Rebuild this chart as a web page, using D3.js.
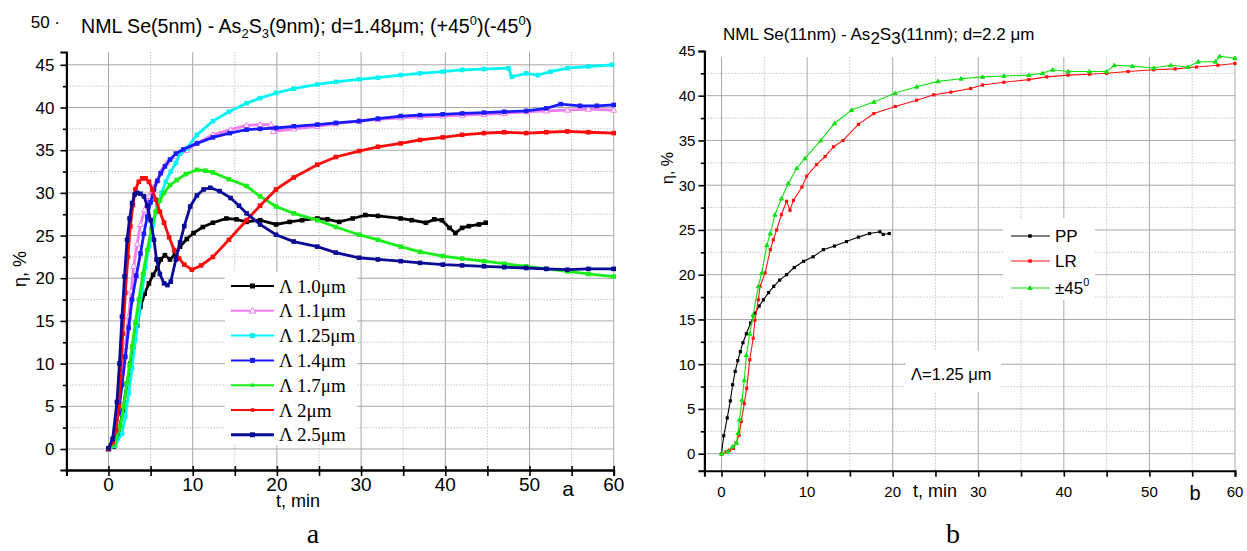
<!DOCTYPE html>
<html>
<head>
<meta charset="utf-8">
<script src="https://cdn.jsdelivr.net/npm/d3@7"></script>
<style>
  body { margin: 0; background: #fff; }
  svg { display: block; }
  text { font-family: "Liberation Sans", Arial, sans-serif; fill: #000; }
  .narrow { font-family: "Liberation Sans Narrow", "Liberation Sans", Arial, sans-serif; }
  .serif { font-family: "Liberation Serif", "Times New Roman", serif; }
</style>
</head>
<body>
<div id="chart"></div>
<script>
// ---- panel a : Se(5nm)-As2S3(9nm) ----
const aNames = ["\u039b 1.0\u03bcm", "\u039b 1.1\u03bcm", "\u039b 1.25\u03bcm", "\u039b 1.4\u03bcm", "\u039b 1.7\u03bcm", "\u039b 2\u03bcm", "\u039b 2.5\u03bcm"]
const aColors = ["#000000", "#f07cf0", "#00f4f4", "#1a1aff", "#18ee18", "#ff0a0a", "#0a0a96"]

const a10 = [[0,0],[0.6,0.3],[1.2,1.8],[1.7,4.5],[2.2,7.7],[2.6,10],[3.0,12],[3.4,14.5],[3.8,16.7],[4.3,18.2],[4.8,19.4],[5.3,20.4],[5.8,21.2],[6.2,22.2],[6.7,22.7],[7.3,22.2],[7.9,22.8],[8.5,23.7],[9.3,24.6],[10.1,25.3],[11.2,26],[12.4,26.5],[14,27],[15.2,26.9],[16.4,26.6],[18,26.8],[19.9,26.3],[21.5,26.6],[23,26.8],[24.8,27],[26,26.9],[27.4,26.6],[29,27],[30.5,27.4],[32,27.3],[34.7,27],[36,26.8],[37.7,26.5],[38.7,26.9],[39.6,26.8],[40.5,25.9],[41.2,25.3],[42,25.9],[42.8,26.1],[44,26.3],[44.8,26.5]]
const a11 = [[0,0],[0.5,0.8],[0.9,3],[1.3,5.5],[1.6,8.9],[2.0,12],[2.4,15.5],[2.7,18.5],[3.0,21.4],[3.4,24],[3.8,26.3],[4.3,28],[4.8,29.6],[5.3,30.6],[5.8,31.5],[6.3,32.6],[6.9,33.5],[8,34.3],[9.3,35],[10.5,35.8],[12.4,36.8],[14.5,37.4],[16.4,37.9],[18,38],[19.3,38],[19.6,37.2],[22,37.5],[24.8,37.8],[27,38.1],[29.75,38.4],[32,38.6],[34.7,38.8],[37,38.9],[39.7,39.0],[42,39.1],[44.6,39.2],[47,39.3],[49.6,39.5],[52,39.6],[54.5,39.7],[57,39.8],[60,39.7]]
const a125 = [[0,0],[0.8,0.4],[1.6,1.8],[2.0,3.8],[2.4,6.5],[2.8,9.5],[3.2,12.8],[3.6,15.8],[4.0,18.6],[4.4,21.3],[4.8,23.7],[5.3,26.2],[5.8,28.4],[6.3,30],[6.8,31.3],[7.4,32.5],[8.0,33.5],[8.5,34.6],[9.3,35.2],[10.5,36.8],[12.4,38.4],[14.3,39.5],[16.4,40.5],[18,41.1],[19.9,41.7],[22,42.2],[24.8,42.7],[27,43.0],[29.75,43.3],[32,43.5],[34.7,43.8],[37,44.0],[39.7,44.2],[42,44.4],[44.6,44.5],[47.5,44.6],[47.9,43.6],[49.6,44.0],[51,43.8],[52.5,44.2],[54.5,44.6],[57,44.8],[59.8,45.0]]
const a14 = [[0,0],[0.5,1],[1.2,4.2],[1.6,7.5],[2.0,10.8],[2.4,14.2],[2.8,17.5],[3.3,20.3],[3.8,22.9],[4.2,25.2],[4.6,27.2],[5.0,28.9],[5.4,30.4],[5.8,31.4],[6.2,32.3],[6.7,33.1],[7.3,33.9],[8.0,34.6],[8.9,35.1],[10.5,35.8],[12.4,36.5],[14.4,37],[16.4,37.4],[18,37.5],[19.9,37.6],[22,37.8],[24.8,38.0],[27,38.2],[29.75,38.4],[32,38.7],[34.7,39.0],[37,39.1],[39.7,39.2],[42,39.3],[44.6,39.4],[47,39.5],[49.6,39.6],[52,39.9],[53.7,40.4],[56,40.2],[58,40.2],[60,40.3]]
const a17 = [[0,0],[0.7,0.5],[1.4,2.6],[1.8,5],[2.2,7.7],[2.5,9.8],[2.8,12],[3.2,14.8],[3.6,17.5],[4.1,20.5],[4.6,23.3],[5.1,25.8],[5.6,27.8],[6.1,29.1],[6.6,30],[7.3,30.9],[8.1,31.5],[9.2,32.2],[10.5,32.7],[11.5,32.6],[12.4,32.4],[14.3,31.6],[16.4,30.8],[18,29.6],[19.9,28.4],[22,27.6],[24.8,26.8],[27,26],[29.75,25.1],[32,24.5],[34.7,23.7],[37,23.1],[39.7,22.6],[42,22.3],[44.6,22.0],[47,21.7],[49.6,21.4],[52,21.1],[54.5,20.8],[57,20.5],[60,20.2]]
const a20 = [[0,0],[0.5,0.8],[0.9,2.2],[1.2,5],[1.4,8.5],[1.7,13.5],[2.0,18.3],[2.3,22.5],[2.6,26.1],[2.9,28.6],[3.2,30.4],[3.6,31.3],[4.0,31.7],[4.4,31.7],[4.8,31.3],[5.2,30.4],[5.6,29.2],[6.1,27.8],[6.6,26.5],[7.2,24.8],[7.8,23.3],[8.4,22.3],[9.0,21.6],[9.9,21.0],[11,21.5],[12.4,22.5],[14.3,24.5],[16.4,26.8],[18,28.5],[19.9,30.4],[22,31.8],[24.8,33.3],[27,34.2],[29.75,34.9],[32,35.4],[34.7,35.8],[37,36.2],[39.7,36.5],[42,36.8],[44.6,37.0],[47,37.1],[49.6,37.0],[52,37.1],[54.5,37.2],[57,37.1],[60,37.0]]
const a25 = [[0,0.1],[0.5,1.2],[1.0,5.5],[1.3,10],[1.6,15.5],[1.9,20.2],[2.2,24.5],[2.5,27],[2.8,28.8],[3.1,29.8],[3.4,30],[3.8,29.9],[4.2,29.6],[4.6,28.5],[5.0,26.8],[5.4,24.5],[5.7,22.2],[6.1,20.5],[6.6,19.4],[7.0,19.2],[7.4,19.6],[8.0,22.2],[8.5,24.2],[9.0,26.1],[9.7,28.4],[10.5,29.7],[11.3,30.4],[12.1,30.6],[13.2,30.2],[14.5,29.4],[15.5,28.5],[16.4,27.6],[18,26.3],[19.9,25.1],[22,24.3],[24.8,23.7],[27,23],[29.75,22.4],[32,22.2],[34.7,22.0],[37,21.8],[39.7,21.6],[42,21.5],[44.6,21.4],[47,21.3],[49.6,21.2],[52,21.1],[54.5,21.0],[57,21.1],[60,21.1]]
const aSeries = [a10, a11, a125, a14, a17, a20, a25]
const aMarkers = ["square", "triangleOpen", "square", "square", "dot", "dot", "square"]

// ---- panel b : Se(11nm)-As2S3(11nm) ----
const bNames = ["PP", "LR", "\u00b145"]
const bColors = ["#000000", "#ff1010", "#10e010"]
const bPP = [[0,0],[0.26,2.0],[0.67,4.0],[1.03,5.9],[1.3,7.7],[1.6,9.2],[1.9,10.4],[2.2,11.4],[2.5,12.4],[2.9,13.4],[3.4,14.6],[3.9,15.7],[4.4,16.5],[4.9,17.2],[5.5,18],[6.1,18.7],[6.8,19.4],[7.6,20.0],[8.5,20.8],[9.6,21.5],[10.7,22],[11.9,22.8],[13.2,23.2],[14.6,23.7],[16,24.2],[17.3,24.6],[18.5,24.8],[18.9,24.5],[19.6,24.6]]
const bLR = [[0,0],[0.5,0.2],[0.93,0.4],[1.4,0.6],[1.7,1.2],[2.07,2.1],[2.3,3.6],[2.66,5.6],[2.94,7.3],[3.3,10.5],[3.7,12.9],[3.9,14.9],[4.3,17.2],[4.5,18.7],[5.1,20.2],[5.7,22.8],[6.05,23.9],[6.45,25.0],[7.0,26.7],[7.6,28.2],[8.0,27.2],[8.4,28.3],[9.4,29.8],[9.95,31.0],[11.1,32.3],[12.1,33.2],[13.1,34.3],[14.2,35.0],[16,36.8],[17.8,38.0],[20.3,38.8],[22.8,39.5],[24.8,40.1],[26.8,40.4],[29.1,40.8],[30.5,41.2],[33,41.5],[35.9,41.8],[38,42.1],[40.5,42.3],[43,42.4],[45,42.5],[47.5,42.7],[50.5,42.9],[53,43.0],[55.5,43.2],[58,43.4],[60,43.6]]
const bPM = [[0,0],[0.7,0.25],[1.3,0.8],[1.75,1.2],[1.93,2.3],[2.1,3.8],[2.4,6.0],[2.66,8.2],[2.9,11.0],[3.3,13.4],[3.7,15.5],[4.3,18.7],[4.7,20.2],[5.3,23.3],[5.7,24.6],[6.25,26.7],[7.0,28.5],[7.8,30.2],[8.8,31.9],[9.75,33.0],[11.6,35.0],[13.2,36.9],[15.2,38.4],[17.8,39.3],[20.3,40.3],[22.8,41.0],[25.3,41.6],[28,41.9],[30.5,42.1],[33,42.2],[35.9,42.3],[37.5,42.5],[38.7,42.9],[40.5,42.7],[43,42.7],[45,42.7],[45.9,43.4],[48,43.3],[50.5,43.1],[52.5,43.4],[54.5,43.2],[55.7,43.8],[57.7,43.8],[58.2,44.4],[60,44.2]]
const bSeries = [bPP, bLR, bPM]
const bMarkers = ["square", "square", "triangle"]

// ticks
const xLabelTicks = [0, 10, 20, 30, 40, 50, 60]
const yLabelTicks = [0, 5, 10, 15, 20, 25, 30, 35, 40, 45]

const W = 1247, H = 551
const svg = d3.select("#chart").append("svg").attr("width", W).attr("height", H)

function marker(g, type, x, y, color, s) {
  if (type === "square" || type === "dot") {
    g.append("rect").attr("x", x - s / 2).attr("y", y - s / 2).attr("width", s).attr("height", s).attr("fill", color)
  } else {
    let r = s * 0.65
    let p = [[x, y - r], [x + r, y + r * 0.7], [x - r, y + r * 0.7]]
    g.append("polygon").attr("points", p.map(d => d.join(",")).join(" "))
      .attr("fill", type === "triangleOpen" ? "#fff" : color)
      .attr("stroke", color).attr("stroke-width", 1)
  }
}

function drawPanel(cfg) {
  const x = d3.scaleLinear().domain(cfg.xDomain).range(cfg.xRange)
  const y = d3.scaleLinear().domain(cfg.yDomain).range(cfg.yRange)
  const g = svg.append("g")
  const top = y(cfg.gridTop)
  const xEnd = x(60)

  // grid
  const xMinor = d3.range(5, 60, 10), xMajor = d3.range(0, 61, 10)
  const yMinor = d3.range(2.5, 45, 5), yMajor = yLabelTicks.filter(v => v <= cfg.hTop)
  g.selectAll(".vminor").data(xMinor).enter().append("line")
    .attr("x1", d => x(d)).attr("x2", d => x(d)).attr("y1", top).attr("y2", cfg.yRange[0])
    .attr("stroke", "#c4c4c4").attr("stroke-dasharray", "1.5,1.5").attr("stroke-width", 1)
  g.selectAll(".hminor").data(yMinor).enter().append("line")
    .attr("x1", cfg.xRange[0]).attr("x2", xEnd).attr("y1", d => y(d)).attr("y2", d => y(d))
    .attr("stroke", "#c4c4c4").attr("stroke-dasharray", "1.5,1.5").attr("stroke-width", 1)
  g.selectAll(".vmajor").data(xMajor).enter().append("line")
    .attr("x1", d => x(d)).attr("x2", d => x(d)).attr("y1", top).attr("y2", cfg.yRange[0])
    .attr("stroke", "#a8a8a8").attr("stroke-width", 1)
  g.selectAll(".hmajor").data(yMajor).enter().append("line")
    .attr("x1", cfg.xRange[0]).attr("x2", xEnd).attr("y1", d => y(d)).attr("y2", d => y(d))
    .attr("stroke", "#a8a8a8").attr("stroke-width", 1)

  // white boxes (legend / annotations) over the grid
  cfg.boxes.forEach(b => {
    g.append("rect").attr("x", b[0]).attr("y", b[1]).attr("width", b[2] - b[0]).attr("height", b[3] - b[1]).attr("fill", "#fff")
  })

  // series
  const line = d3.line().x(d => x(d[0])).y(d => y(d[1]))
  cfg.series.forEach((s, i) => {
    g.append("path").datum(s).attr("d", line).attr("fill", "none")
      .attr("stroke", cfg.colors[i]).attr("stroke-width", cfg.lineWidth)
    const mg = g.append("g")
    s.forEach(d => marker(mg, cfg.markers[i], x(d[0]), y(d[1]), cfg.colors[i], cfg.markerSize))
  })

  // axes
  const xAxis = d3.axisBottom(x).tickValues(d3.range(cfg.xDomain[0] < -4 ? -5 : 0, 61, 5))
    .tickSize(cfg.tickOut).tickFormat("")
  g.append("g").attr("transform", `translate(0,${cfg.yRange[0]})`).call(xAxis)
  if (cfg.tickIn) {
    g.append("g").attr("transform", `translate(0,${cfg.yRange[0]})`)
      .call(d3.axisBottom(x).tickValues(d3.range(-5, 61, 5)).tickSize(-cfg.tickIn).tickFormat("").tickSizeOuter(0))
  }
  const yAxis = d3.axisLeft(y).tickValues(cfg.yTicks).tickSize(cfg.tickOut).tickFormat("")
  g.append("g").attr("transform", `translate(${cfg.xRange[0]},0)`).call(yAxis)
  g.append("g").attr("transform", `translate(${cfg.xRange[0]},0)`)
    .call(d3.axisLeft(y).tickValues(d3.range(2.5, 45, 5)).tickSize(cfg.tickOut * 0.6).tickFormat("").tickSizeOuter(0))
  g.selectAll(".domain").attr("stroke", "#000").attr("stroke-width", 2)
  g.selectAll(".tick line").attr("stroke", "#000").attr("stroke-width", 1.6)

  // tick labels
  g.selectAll(".xl").data(xLabelTicks).enter().append("text").attr("class", "narrow")
    .attr("x", d => x(d)).attr("y", cfg.xLabelY).attr("text-anchor", "middle")
    .style("font-size", cfg.tickFont + "px").text(d => d)
  g.selectAll(".yl").data(yLabelTicks).enter().append("text")
    .attr("x", cfg.xRange[0] - cfg.yLabelGap).attr("y", d => y(d)).attr("dy", "0.36em").attr("text-anchor", "end")
    .style("font-size", cfg.yTickFont + "px").text(d => d)

  // axis titles
  g.append("text").attr("x", cfg.tLabel[0]).attr("y", cfg.tLabel[1]).attr("text-anchor", "middle")
    .style("font-size", cfg.tFont + "px").text("t, min")
  g.append("text").attr("x", cfg.panelTag[0]).attr("y", cfg.panelTag[1]).attr("text-anchor", "middle")
    .style("font-size", cfg.tagFont + "px").text(cfg.tag)
  g.append("text").attr("transform", `translate(${cfg.etaLabel[0]},${cfg.etaLabel[1]}) rotate(-90)`)
    .attr("text-anchor", "middle").style("font-size", cfg.etaFont + "px").text("\u03b7, %")
  g.append("text").attr("class", "serif").attr("x", cfg.bigTag[0]).attr("y", cfg.bigTag[1])
    .attr("text-anchor", "middle").style("font-size", "28px").text(cfg.tag)
  return { g, x, y }
}

// ---------- panel a ----------
const A = drawPanel({
  xDomain: [-5, 60], xRange: [66.4, 613.7],
  yDomain: [-2.46, 46.5], yRange: [470, 52], gridTop: 46.5, hTop: 45,
  yTicks: yLabelTicks, series: aSeries, colors: aColors, markers: aMarkers,
  lineWidth: 2.8, markerSize: 4.6, tickOut: 6, tickIn: 4, yLabelGap: 12,
  boxes: [[225, 272, 357, 445]],
  xLabelY: 491, tickFont: 19, yTickFont: 17,
  tLabel: [298, 507], tFont: 18, panelTag: [568, 496], tagFont: 21, tag: "a",
  etaLabel: [26, 269], etaFont: 18, bigTag: [313, 543]
})
A.g.append("text").attr("x", 60).attr("y", A.y(50)).attr("dy", "0.36em").attr("text-anchor", "end")
  .style("font-size", "17px").text("50 \u00b7")
const tA = A.g.append("text").attr("x", 81).attr("y", 33).style("font-size", "19.6px")
tA.append("tspan").text("NML Se(5nm) - As")
tA.append("tspan").attr("dy", 5).style("font-size", "13px").text("2")
tA.append("tspan").attr("dy", -5).text("S")
tA.append("tspan").attr("dy", 5).style("font-size", "13px").text("3")
tA.append("tspan").attr("dy", -5).text("(9nm); d=1.48\u03bcm; (+45")
tA.append("tspan").attr("dy", -8).style("font-size", "13px").text("0")
tA.append("tspan").attr("dy", 8).text(")(-45")
tA.append("tspan").attr("dy", -8).style("font-size", "13px").text("0")
tA.append("tspan").attr("dy", 8).text(")")

// legend a
const legA = A.g.append("g")
aNames.forEach((n, i) => {
  const yy = 286 + i * 24.8
  legA.append("line").attr("x1", 231).attr("x2", 274).attr("y1", yy).attr("y2", yy)
    .attr("stroke", aColors[i]).attr("stroke-width", i === 6 ? 3 : 2)
  marker(legA, aMarkers[i], 252.5, yy, aColors[i], i === 4 || i === 5 ? 3.5 : 5)
  legA.append("text").attr("class", "serif").attr("x", 279).attr("y", yy + 6.5)
    .style("font-size", "19px").text(n)
})

// ---------- panel b ----------
const B = drawPanel({
  xDomain: [-2, 60], xRange: [704.4, 1235],
  yDomain: [-1.9, 45], yRange: [470.7, 50.95], gridTop: 44.3, hTop: 40,
  yTicks: yLabelTicks, series: bSeries, colors: bColors, markers: bMarkers,
  lineWidth: 1.1, markerSize: 3.2, tickOut: 6, tickIn: 0, yLabelGap: 9,
  boxes: [[1003, 218, 1095, 300], [906, 351, 1001, 392]],
  xLabelY: 497, tickFont: 15, yTickFont: 15,
  tLabel: [935, 497], tFont: 18, panelTag: [1195, 500], tagFont: 20, tag: "b",
  etaLabel: [673, 168], etaFont: 16, bigTag: [953, 543]
})
const tB = B.g.append("text").attr("x", 723).attr("y", 40).style("font-size", "17px")
tB.append("tspan").text("NML Se(11nm) - As")
tB.append("tspan").attr("dy", 4).text("2")
tB.append("tspan").attr("dy", -4).text("S")
tB.append("tspan").attr("dy", 4).text("3")
tB.append("tspan").attr("dy", -4).text("(11nm); d=2.2 \u03bcm")

const legB = B.g.append("g")
bNames.forEach((n, i) => {
  const yy = [236, 261, 288][i]
  legB.append("line").attr("x1", 1011).attr("x2", 1050).attr("y1", yy).attr("y2", yy)
    .attr("stroke", bColors[i]).attr("stroke-width", 1.2)
  marker(legB, bMarkers[i], 1030, yy, bColors[i], 3.5)
  const t = legB.append("text").attr("x", 1055).attr("y", yy + 6).style("font-size", "17px").text(n)
  if (i === 2) t.append("tspan").attr("dy", -8).style("font-size", "11px").text("0")
})
B.g.append("text").attr("x", 911).attr("y", 380).style("font-size", "16.5px").text("\u039b=1.25 \u03bcm")
</script>
</body>
</html>
